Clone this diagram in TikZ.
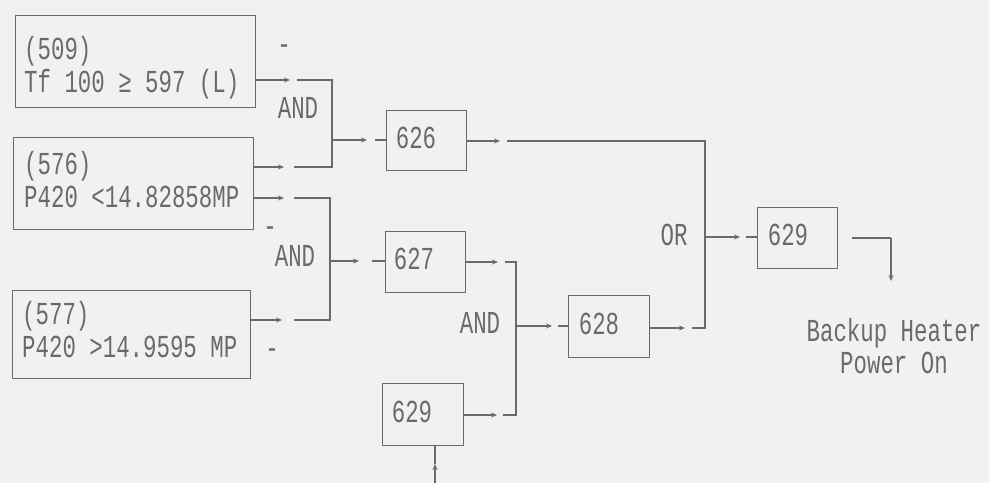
\documentclass[tikz,border=0pt]{standalone}
\usepackage{fontspec}
\setmonofont[FakeStretch=0.7]{Liberation Mono}
\usetikzlibrary{arrows.meta}
\definecolor{ink}{HTML}{6A6A6A}
\definecolor{paper}{HTML}{F1F1EF}
\tikzset{
  wire/.style={draw=ink, line width=1.2pt},
  arr/.style={wire, -{Stealth[length=6pt,width=5pt]}},
  box/.style={draw=ink, line width=1.2pt, rectangle, anchor=north west, inner sep=0pt},
  lbl/.style={text=ink, font=\ttfamily\fontsize{32}{30}\selectfont, inner sep=0pt, text height=22pt, text depth=5pt},
  boxtxt/.style={lbl, anchor=base west},
}
\begin{document}
\begin{tikzpicture}[x=1pt,y=-1pt]
\fill[paper] (0,0) rectangle (989,483);
\useasboundingbox (0,0) rectangle (989,483);
% input boxes
\node[box, minimum width=240, minimum height=92] (b509) at (15,15) {};
\node[boxtxt] (t509a) at (24,59) {(509)};
\node[boxtxt] (t509b) at (24,92) {Tf 100 ≥ 597 (L)};
\node[box, minimum width=240, minimum height=92] (b576) at (13,137) {};
\node[boxtxt] (t576a) at (24,174) {(576)};
\node[boxtxt] (t576b) at (24,207) {P420 <14.82858MP};
\node[box, minimum width=238, minimum height=88] (b577) at (12,290) {};
\node[boxtxt] (t577a) at (22,324) {(577)};
\node[boxtxt] (t577b) at (22,357) {P420 >14.9595 MP};
% small boxes
\node[box, minimum width=80, minimum height=60] (b626) at (386,110) {};
\node[lbl] (t626) at (416,140) {626};
\node[box, minimum width=80, minimum height=61] (b627) at (385,231) {};
\node[lbl] (t627) at (414,261) {627};
\node[box, minimum width=81, minimum height=62] (b629b) at (382,383) {};
\node[lbl] (t629b) at (412,414) {629};
\node[box, minimum width=81, minimum height=62] (b628) at (568,295) {};
\node[lbl] (t628) at (599,326) {628};
\node[box, minimum width=80, minimum height=61] (b629) at (757,207) {};
\node[lbl] (t629) at (788,237) {629};
% gate labels
\node[lbl] (and1) at (298,110) {AND};
\node[lbl] (and2) at (295,258) {AND};
\node[lbl] (and3) at (480,325) {AND};
\node[lbl] (or1) at (674,237) {OR};
\node[lbl, anchor=base] (out1) at (894,341) {Backup Heater};
\node[lbl, anchor=base] (out2) at (894,373) {Power On};
% small dashes
\node[lbl] (d1) at (284,46) {-};
\node[lbl] (d2) at (270,228) {-};
\node[lbl] (d3) at (272,350) {-};
% bus coordinates
\coordinate (a1t) at (332,80);
\coordinate (a1b) at (332,167);
\coordinate (a1o) at (332,140);
\coordinate (a2t) at (330,198);
\coordinate (a2b) at (330,320);
\coordinate (a2o) at (330,261);
\coordinate (a3t) at (516,262);
\coordinate (a3b) at (516,415);
\coordinate (a3o) at (516,326);
\coordinate (ort) at (705,141);
\coordinate (orb) at (705,328);
\coordinate (oro) at (705,237);
\coordinate (fin) at (891,238);
\coordinate (bot) at (435,483);
% AND 1
\draw[arr] (b509.east|-a1t) -- (290,80);
\draw[wire] (297,80) -- (a1t) -- (a1b) -- (294,167);
\draw[arr] (b576.east|-a1b) -- (284,167);
\draw[arr] (a1o) -- (367,140);
\draw[wire] (375,140) -- (b626.west|-a1o);
% AND 2
\draw[arr] (b576.east|-a2t) -- (284,198);
\draw[wire] (294,198) -- (a2t) -- (a2b) -- (294,320);
\draw[arr] (b577.east|-a2b) -- (282,320);
\draw[arr] (a2o) -- (359,261);
\draw[wire] (372,261) -- (b627.west|-a2o);
% AND 3
\draw[arr] (b627.east|-a3t) -- (498,262);
\draw[wire] (505,262) -- (a3t) -- (a3b) -- (503,415);
\draw[arr] (b629b.east|-a3b) -- (497,415);
\draw[arr] (a3o) -- (552,326);
\draw[wire] (558,326) -- (b628.west|-a3o);
% OR
\draw[arr] (b626.east|-ort) -- (500,141);
\draw[wire] (507,141) -- (ort) -- (orb) -- (692,328);
\draw[arr] (b628.east|-orb) -- (685,328);
\draw[arr] (oro) -- (740,237);
\draw[wire] (746,237) -- (b629.west|-oro);
% output
\draw[wire] (852,238) -- (fin);
\draw[arr] (fin) -- (891,281);
% bottom input
\draw[arr] (bot) -- (435,464);
\draw[wire] (435,464) -- (b629b.south-|bot);
\end{tikzpicture}
\end{document}
